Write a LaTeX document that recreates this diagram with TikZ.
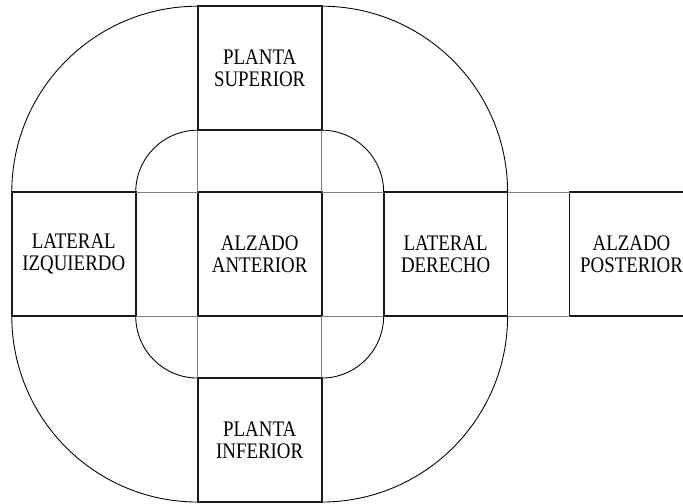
\documentclass[tikz,border=0pt]{standalone}
\usepackage{fontspec}
\newfontfamily\vistafont[FakeStretch=0.85]{Liberation Serif}
\usetikzlibrary{positioning}

\tikzset{
  vista/.style={draw=black!90, line width=0.8pt, minimum size=2cm, inner sep=0pt,
    outer sep=0pt, align=center, font=\vistafont\fontsize{10.2}{10.1}\selectfont},
  pliegue/.style={draw=black!50, line width=0.35pt},
  giro/.style={draw=black, line width=0.4pt},
}

\begin{document}
\begin{tikzpicture}
	\useasboundingbox (-4.19,-4.03) rectangle (6.83,4.10);

	% Views
	\node[vista] (alz)  at (0,0)  {ALZADO\\ANTERIOR};
	\node[vista] (sup)  at (0,3)  {PLANTA\\SUPERIOR};
	\node[vista] (inf)  at (0,-3) {PLANTA\\INFERIOR};
	\node[vista] (izq)  at (-3,0) {LATERAL\\IZQUIERDO};
	\node[vista] (der)  at (3,0)  {LATERAL\\DERECHO};
	\node[vista] (post) at (6,0)  {ALZADO\\POSTERIOR};

	% Fold lines (horizontal)
	\draw[pliegue] (izq.north east) -- (alz.north west);
	\draw[pliegue] (alz.north east) -- (der.north west);
	\draw[pliegue] (der.north east) -- (post.north west);
	\draw[pliegue] (izq.south east) -- (alz.south west);
	\draw[pliegue] (alz.south east) -- (der.south west);
	\draw[pliegue] (der.south east) -- (post.south west);

	% Fold lines (vertical)
	\draw[pliegue] (sup.south west) -- (alz.north west);
	\draw[pliegue] (sup.south east) -- (alz.north east);
	\draw[pliegue] (alz.south west) -- (inf.north west);
	\draw[pliegue] (alz.south east) -- (inf.north east);

	% Outer turns
	\draw[giro] (izq.north west) arc [radius=3cm, start angle=180, end angle=90];
	\draw[giro] (sup.north east) arc [radius=3cm, start angle=90, end angle=0];
	\draw[giro] (der.south east) arc [radius=3cm, start angle=0, end angle=-90];
	\draw[giro] (inf.south west) arc [radius=3cm, start angle=270, end angle=180];

	% Inner turns
	\draw[giro] (izq.north east) arc [radius=1cm, start angle=180, end angle=90];
	\draw[giro] (sup.south east) arc [radius=1cm, start angle=90, end angle=0];
	\draw[giro] (der.south west) arc [radius=1cm, start angle=0, end angle=-90];
	\draw[giro] (inf.north west) arc [radius=1cm, start angle=270, end angle=180];
\end{tikzpicture}
\end{document}
